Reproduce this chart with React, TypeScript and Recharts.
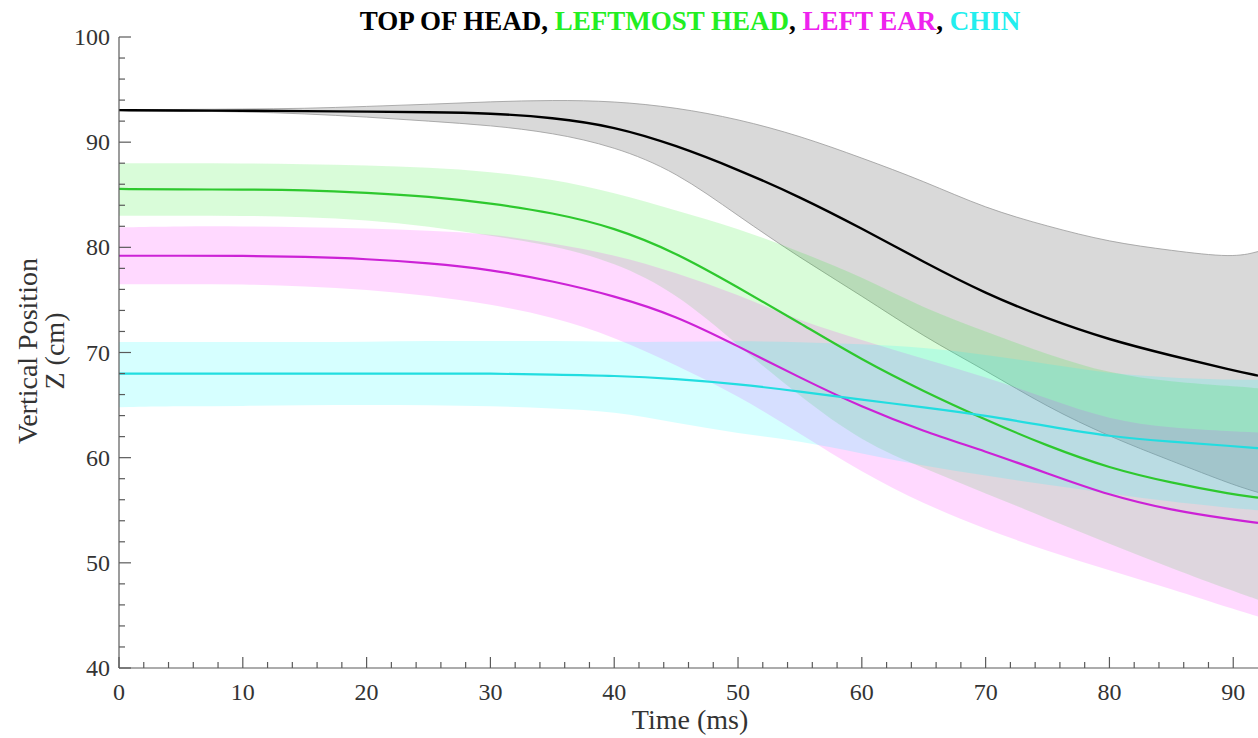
import { Area, ComposedChart, Line, XAxis, YAxis } from "recharts";

// time axis (ms)
const timeMs = [0, 5, 10, 15, 20, 25, 30, 35, 40, 45, 50, 55, 60, 65, 70, 75, 80, 85, 90, 92];

// TOP OF HEAD
const topMean = [93.05, 93.0, 93.0, 92.95, 92.9, 92.85, 92.75, 92.35, 91.5, 89.7, 87.4, 84.8, 81.8, 78.6, 75.6, 73.2, 71.2, 69.7, 68.3, 67.8];
const topLow = [93.0, 92.95, 92.9, 92.7, 92.4, 92.0, 91.6, 90.9, 89.6, 87.2, 83.0, 79.0, 75.4, 71.5, 68.3, 64.8, 62.0, 59.7, 57.4, 56.7];
const topHigh = [93.1, 93.1, 93.15, 93.2, 93.4, 93.6, 93.85, 94.0, 93.9, 93.3, 92.2, 90.6, 88.5, 86.3, 83.7, 82.0, 80.5, 79.7, 79.0, 79.6];

// LEFTMOST HEAD
const leftmostMean = [85.55, 85.5, 85.5, 85.45, 85.2, 84.85, 84.2, 83.3, 81.9, 79.5, 76.2, 72.8, 69.3, 66.3, 63.6, 61.1, 59.0, 57.6, 56.5, 56.2];
const leftmostLow = [83.0, 83.0, 83.0, 82.9, 82.6, 82.0, 81.1, 80.2, 78.6, 75.7, 70.7, 65.8, 61.5, 59.0, 56.6, 54.2, 51.8, 49.5, 47.3, 46.5];
const leftmostHigh = [88.0, 88.0, 88.0, 87.9, 87.8, 87.6, 87.2, 86.5, 85.2, 83.5, 81.8, 79.6, 77.2, 74.2, 72.0, 69.8, 68.0, 67.2, 66.8, 66.6];

// LEFT EAR
const earMean = [79.2, 79.2, 79.2, 79.1, 78.9, 78.5, 77.9, 76.8, 75.4, 73.5, 70.6, 67.6, 64.8, 62.5, 60.6, 58.5, 56.4, 55.0, 54.1, 53.8];
const earLow = [76.5, 76.5, 76.5, 76.3, 76.0, 75.4, 74.6, 73.4, 71.5, 68.8, 65.9, 62.3, 58.6, 55.6, 53.2, 51.1, 49.3, 47.5, 45.6, 44.9];
const earHigh = [81.9, 82.0, 82.0, 81.9, 81.8, 81.6, 81.3, 80.4, 79.3, 77.6, 75.5, 73.0, 71.2, 69.4, 67.7, 65.6, 63.6, 62.8, 62.5, 62.4];

// CHIN
const chinMean = [68.0, 68.0, 68.0, 68.0, 68.0, 68.0, 68.0, 67.9, 67.8, 67.5, 67.0, 66.3, 65.5, 64.8, 64.0, 63.0, 62.0, 61.5, 61.1, 60.9];
const chinLow = [64.8, 64.9, 64.9, 65.0, 65.0, 65.0, 64.9, 64.7, 64.4, 63.3, 62.3, 61.6, 60.4, 59.2, 58.3, 57.4, 56.6, 55.8, 55.2, 55.0];
const chinHigh = [71.0, 71.0, 71.0, 71.0, 71.0, 71.1, 71.1, 71.1, 71.0, 71.0, 71.1, 71.0, 70.8, 70.5, 69.8, 68.9, 68.0, 67.6, 67.4, 67.4];

const xTicks = [0, 2, 4, 6, 8, 10, 12, 14, 16, 18, 20, 22, 24, 26, 28, 30, 32, 34, 36, 38, 40, 42, 44, 46, 48, 50, 52, 54, 56, 58, 60, 62, 64, 66, 68, 70, 72, 74, 76, 78, 80, 82, 84, 86, 88, 90];
const yTicks = [40, 42, 44, 46, 48, 50, 52, 54, 56, 58, 60, 62, 64, 66, 68, 70, 72, 74, 76, 78, 80, 82, 84, 86, 88, 90, 92, 94, 96, 98, 100];

const titleParts = [
  { text: "TOP OF HEAD", color: "#000" },
  { text: ", ", color: "#000" },
  { text: "LEFTMOST HEAD", color: "#22ee22" },
  { text: ", ", color: "#000" },
  { text: "LEFT EAR", color: "#ee22ee" },
  { text: ", ", color: "#000" },
  { text: "CHIN", color: "#22eeee" },
];

const data = timeMs.map((t, i) => ({
  t,
  topMean: topMean[i],
  topBand: [topLow[i], topHigh[i]],
  leftmostMean: leftmostMean[i],
  leftmostBand: [leftmostLow[i], leftmostHigh[i]],
  earMean: earMean[i],
  earBand: [earLow[i], earHigh[i]],
  chinMean: chinMean[i],
  chinBand: [chinLow[i], chinHigh[i]],
}));

const FONT = '"Liberation Serif", "Times New Roman", serif';
const AXIS = "#5a5a5a";
const TEXT = "#333";

function XTick(props: any) {
  const { x, y, payload } = props;
  const major = payload.value % 10 === 0;
  return (
    <g>
      <line x1={x} x2={x} y1={y} y2={y - (major ? 11 : 6)} stroke={AXIS} strokeWidth={1.2} />
      {major && (
        <text x={x} y={y + 32} textAnchor="middle" fontFamily={FONT} fontSize={24} fill={TEXT}>
          {payload.value}
        </text>
      )}
    </g>
  );
}

function YTick(props: any) {
  const { x, y, payload } = props;
  const major = payload.value % 10 === 0;
  return (
    <g>
      <line x1={x} x2={x + (major ? 12 : 6)} y1={y} y2={y} stroke={AXIS} strokeWidth={1.2} />
      {major && (
        <text x={x - 9} y={y + 8} textAnchor="end" fontFamily={FONT} fontSize={24} fill={TEXT}>
          {payload.value}
        </text>
      )}
    </g>
  );
}

export default function App() {
  return (
    <div style={{ position: "absolute", left: 0, top: 0, width: 1258, height: 738, background: "#fff" }}>
      <ComposedChart width={1258} height={738} data={data} margin={{ top: 37, right: 0, bottom: 30, left: 59 }}>
        <XAxis
          dataKey="t"
          type="number"
          domain={[0, 92]}
          ticks={xTicks}
          interval={0}
          tickSize={0}
          tickMargin={0}
          height={40}
          stroke={AXIS}
          strokeWidth={1.2}
          tick={<XTick />}
          allowDataOverflow
        />
        <YAxis
          type="number"
          domain={[40, 100]}
          ticks={yTicks}
          interval={0}
          tickSize={0}
          tickMargin={0}
          width={60}
          stroke={AXIS}
          strokeWidth={1.2}
          tick={<YTick />}
          allowDataOverflow
        />
        <Area
          type="basis"
          dataKey="topBand"
          fill="#8c8c8c"
          fillOpacity={0.33}
          stroke="#9a9a9a"
          strokeWidth={0.8}
          isAnimationActive={false}
          activeDot={false}
        />
        <Area
          type="basis"
          dataKey="leftmostBand"
          fill="#00ee00"
          fillOpacity={0.15}
          stroke="none"
          isAnimationActive={false}
          activeDot={false}
        />
        <Area
          type="basis"
          dataKey="earBand"
          fill="#ff00ff"
          fillOpacity={0.15}
          stroke="none"
          isAnimationActive={false}
          activeDot={false}
        />
        <Area
          type="basis"
          dataKey="chinBand"
          fill="#00ffff"
          fillOpacity={0.16}
          stroke="none"
          isAnimationActive={false}
          activeDot={false}
        />
        <Line type="basis" dataKey="topMean" stroke="#000" strokeWidth={2.4} dot={false} activeDot={false} isAnimationActive={false} />
        <Line type="basis" dataKey="leftmostMean" stroke="#2ec82e" strokeWidth={2.2} dot={false} activeDot={false} isAnimationActive={false} />
        <Line type="basis" dataKey="earMean" stroke="#cc22d6" strokeWidth={2.2} dot={false} activeDot={false} isAnimationActive={false} />
        <Line type="basis" dataKey="chinMean" stroke="#22dde0" strokeWidth={2.2} dot={false} activeDot={false} isAnimationActive={false} />
      </ComposedChart>
      <svg
        width={1258}
        height={738}
        style={{ position: "absolute", left: 0, top: 0, pointerEvents: "none", fontFamily: FONT }}
      >
        <text x={690} y={30} textAnchor="middle" style={{ fontFamily: FONT, fontWeight: 700, fontSize: 27 }}>
          {titleParts.map((p, i) => (
            <tspan key={i} fill={p.color} style={{ fontFamily: FONT, fontWeight: 700 }}>
              {p.text}
            </tspan>
          ))}
        </text>
        <text transform="translate(37, 351) rotate(-90)" textAnchor="middle" fontFamily={FONT} fontSize={28} fill={TEXT}>
          Vertical Position
        </text>
        <text transform="translate(64, 351) rotate(-90)" textAnchor="middle" fontFamily={FONT} fontSize={28} fill={TEXT}>
          Z (cm)
        </text>
        <text x={690} y={729} textAnchor="middle" fontFamily={FONT} fontSize={28} fill={TEXT}>
          Time (ms)
        </text>
      </svg>
    </div>
  );
}
